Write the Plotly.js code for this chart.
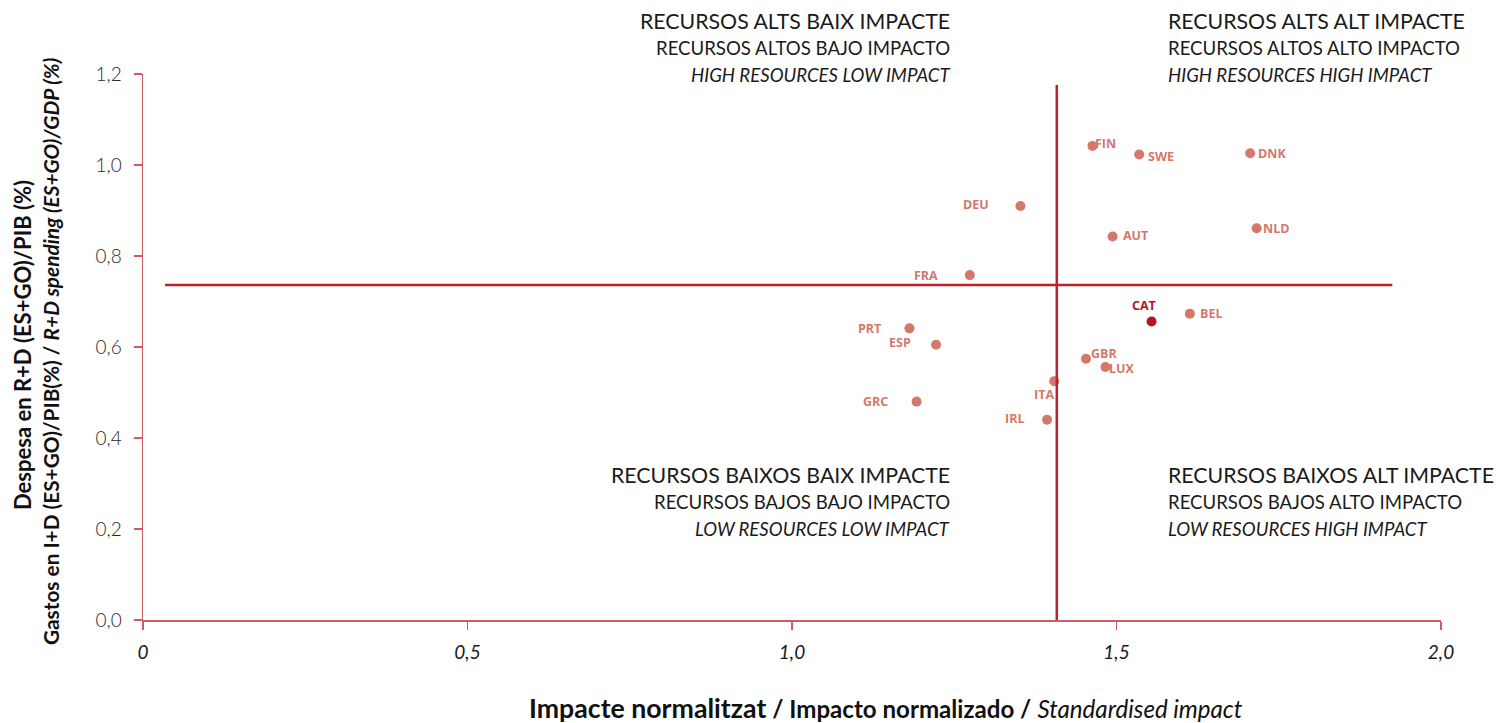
<!DOCTYPE html>
<html>
<head>
<meta charset="utf-8">
<script src="https://cdn.plot.ly/plotly-3.0.1.min.js"></script>
<style>
html,body{margin:0;padding:0;background:#fff;}
#chart{width:1511px;height:723px;}
</style>
</head>
<body>
<div id="chart"></div>
<script>
// ---- Data ----
const countries = ["FIN","SWE","DNK","DEU","AUT","NLD","FRA","CAT","BEL","PRT","ESP","GBR","LUX","ITA","GRC","IRL"];
const impact    = [1.463,1.535,1.706,1.352,1.494,1.716,1.274,1.554,1.613,1.181,1.222,1.453,1.483,1.404,1.192,1.393];
const spending  = [1.042,1.023,1.026,0.910,0.843,0.861,0.758,0.656,0.673,0.641,0.605,0.574,0.556,0.525,0.480,0.440];
const meanImpact = 1.408;
const meanSpending = 0.736;
const xTickVals = [0,0.5,1,1.5,2];
const xTickText = ["0","0,5","1,0","1,5","2,0"];
const yTickVals = [0,0.2,0.4,0.6,0.8,1.0,1.2];
const yTickText = ["0,0","0,2","0,4","0,6","0,8","1,0","1,2"];

// ---- Styles ----
const POINT = "#d4786a";
const HIGHLIGHT = "#b8141f";
const LINE = "#c0202e";
const AXIS = "#cd5c68";
// label placement per country: [anchor, xshift, yshift]
const labelPos = {
  FIN:["left",1,2], SWE:["left",7,-2], DNK:["left",6,0], DEU:["right",-29,1],
  AUT:["left",8,1], NLD:["left",4,0], FRA:["right",-30,0], CAT:["center",-8,16],
  BEL:["left",8,0], PRT:["right",-26,0], ESP:["right",-23,2], GBR:["left",3,5],
  LUX:["left",2,-1], ITA:["right",2,-13], GRC:["right",-27,0], IRL:["right",-21,1]
};

const colors = countries.map(c => c === "CAT" ? HIGHLIGHT : POINT);

const trace = {
  x: impact, y: spending, mode: "markers", type: "scatter",
  marker: {color: colors, size: 10, line: {width: 0}},
  hoverinfo: "text", text: countries, cliponaxis: false
};

const annotations = countries.map((c, i) => {
  const p = labelPos[c];
  return {
    x: impact[i], y: spending[i], xref: "x", yref: "y",
    text: c, showarrow: false, xanchor: p[0], yanchor: "middle",
    xshift: p[1], yshift: p[2],
    font: {family: "Open Sans, sans-serif", size: 12.5, color: c === "CAT" ? HIGHLIGHT : POINT, weight: 700}
  };
});

const quadFont1 = {family: "Lato, sans-serif", size: 21.3, color: "#1a1a1a"};
const quadFont2 = {family: "Lato, sans-serif", size: 18.6, color: "#1a1a1a"};
function quad(xp, anchor, ytop, lines) {
  const out = [];
  const ys = [0, 27, 54];
  lines.forEach((t, k) => {
    out.push({
      x: xp, y: ytop, xref: "x", yref: "paper", text: t, showarrow: false,
      xanchor: anchor, yanchor: "middle", yshift: -ys[k],
      font: k === 0 ? quadFont1 : quadFont2
    });
  });
  return out;
}
// paper y for pixel rows: plot top 74, bottom 620 (height 546)
const pyTop = (620 - 21) / 546;
const pyBot = (620 - 475) / 546;
const leftX = 1.247, rightX = 1.576;
annotations.push(...quad(leftX, "right", pyTop, ["RECURSOS ALTS BAIX IMPACTE","RECURSOS ALTOS BAJO IMPACTO","<i>HIGH RESOURCES LOW IMPACT</i>"]));
annotations.push(...quad(rightX, "left", pyTop, ["RECURSOS ALTS ALT IMPACTE","RECURSOS ALTOS ALTO IMPACTO","<i>HIGH RESOURCES HIGH IMPACT</i>"]));
annotations.push(...quad(leftX, "right", pyBot, ["RECURSOS BAIXOS BAIX IMPACTE","RECURSOS BAJOS BAJO IMPACTO","<i>LOW RESOURCES LOW IMPACT</i>"]));
annotations.push(...quad(rightX, "left", pyBot, ["RECURSOS BAIXOS ALT IMPACTE","RECURSOS BAJOS ALTO IMPACTO","<i>LOW RESOURCES HIGH IMPACT</i>"]));

// x-axis title
annotations.push({
  x: (886 - 143) / 1298, y: (620 - 708) / 546, xref: "paper", yref: "paper",
  showarrow: false, xanchor: "center", yanchor: "middle",
  text: "<b><span style='font-size:26.7px'>Impacte normalitzat</span> / Impacto normalizado /</b> <i>Standardised impact</i>",
  font: {family: "Lato, sans-serif", size: 24.1, color: "#111"}
});
// y-axis titles
annotations.push({
  x: (22 - 143) / 1298, y: (620 - 345) / 546, xref: "paper", yref: "paper",
  showarrow: false, textangle: -90, xanchor: "center", yanchor: "middle",
  text: "<b>Despesa en R+D (ES+GO)/PIB (%)</b>",
  font: {family: "Lato, sans-serif", size: 22, color: "#111"}
});
annotations.push({
  x: (50 - 143) / 1298, y: (620 - 352) / 546, xref: "paper", yref: "paper",
  showarrow: false, textangle: -90, xanchor: "center", yanchor: "middle",
  text: "<b>Gastos en I+D (ES+GO)/PIB(%) / <i>R+D spending (ES+GO)/GDP (%)</i></b>",
  font: {family: "Lato, sans-serif", size: 20.8, color: "#111"}
});

const shapes = [
  {type: "line", xref: "x", yref: "y", x0: meanImpact, x1: meanImpact, y0: -0.013, y1: 1.176,
   line: {color: LINE, width: 2.5}},
  {type: "line", xref: "x", yref: "y", x0: 0.034, x1: 1.925, y0: meanSpending, y1: meanSpending,
   line: {color: LINE, width: 2.5}}
];

const layout = {
  width: 1511, height: 723,
  margin: {l: 143, r: 70, t: 74, b: 103, pad: 0},
  paper_bgcolor: "#fff", plot_bgcolor: "#fff",
  showlegend: false,
  xaxis: {
    range: [0, 2], tickvals: xTickVals, ticktext: xTickText,
    showgrid: false, zeroline: false, showline: true, linecolor: AXIS, linewidth: 1.5,
    ticks: "outside", ticklen: 8, tickcolor: AXIS, tickwidth: 1.5,
    ticklabelstandoff: 7,
    tickfont: {family: "Lato, sans-serif", size: 19, color: "#1a1a1a", style: "italic"}
  },
  yaxis: {
    range: [0, 1.2], tickvals: yTickVals, ticktext: yTickText,
    showgrid: false, zeroline: false, showline: true, linecolor: AXIS, linewidth: 1.5,
    ticks: "outside", ticklen: 8, tickcolor: AXIS, tickwidth: 1.5,
    ticklabelstandoff: 8,
    tickfont: {family: "Lato, sans-serif", size: 19, color: "#2a2a2a", weight: 300}
  },
  shapes: shapes,
  annotations: annotations
};

Plotly.newPlot("chart", [trace], layout, {displayModeBar: false, staticPlot: true});
</script>
</body>
</html>
